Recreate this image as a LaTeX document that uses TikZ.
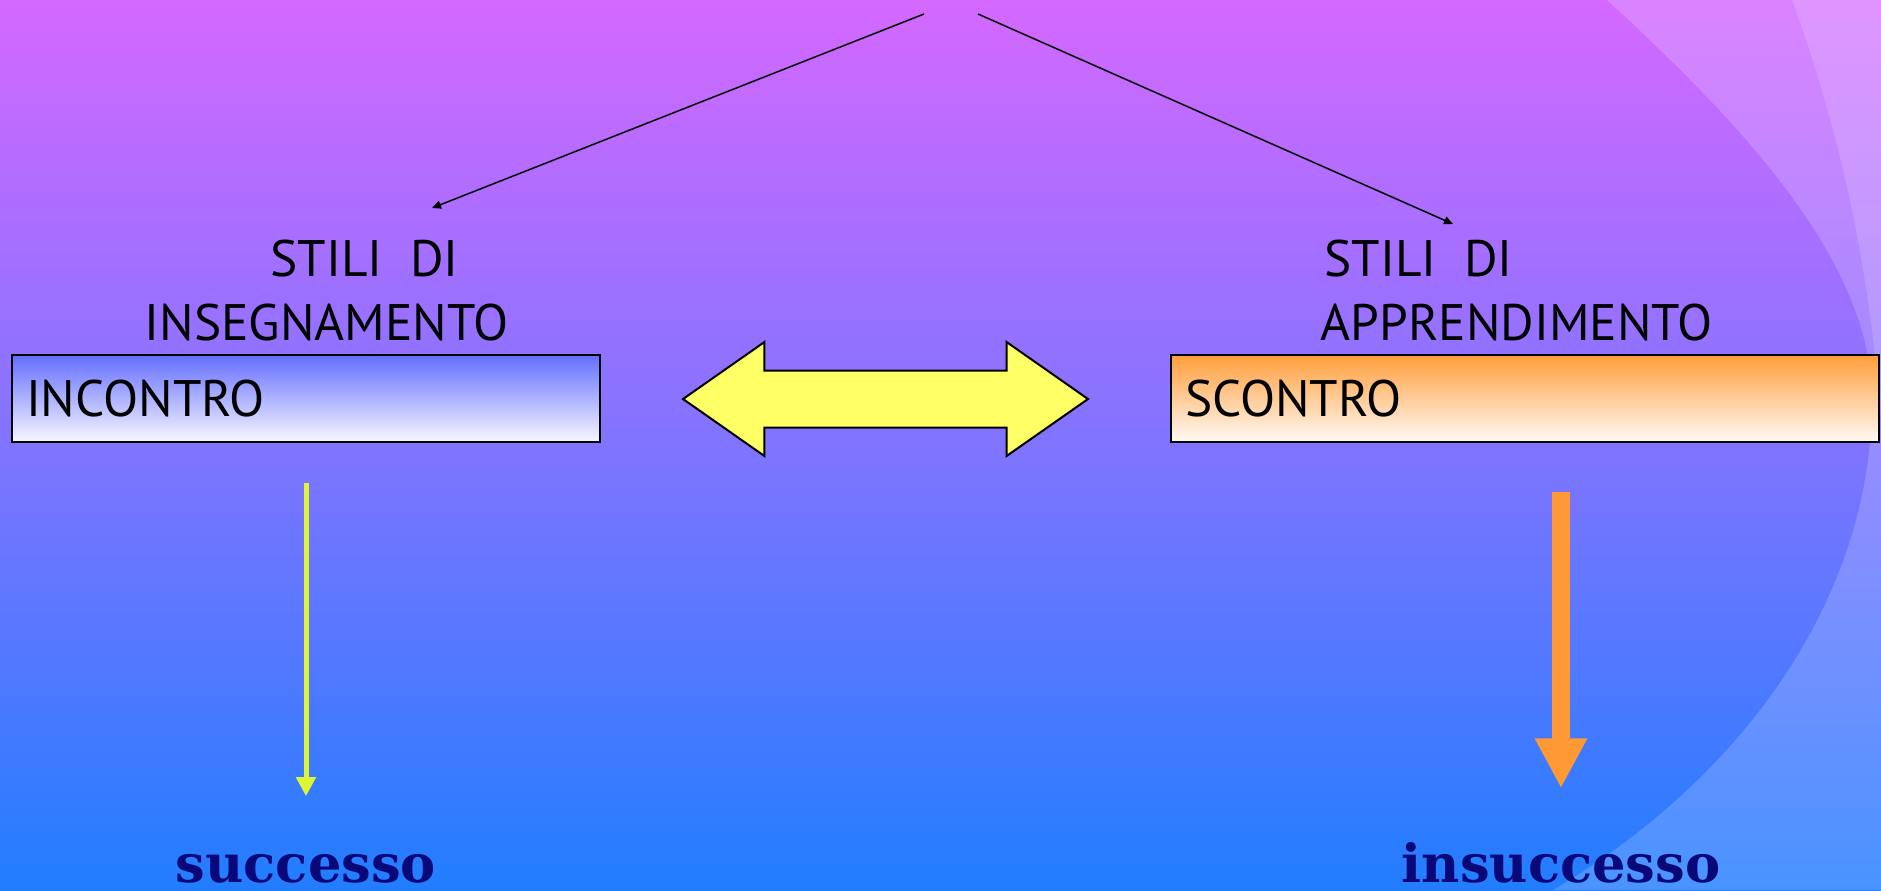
\documentclass[tikz,border=0pt]{standalone}
\usepackage{fontspec}
\setmainfont{PT Sans}
\newfontfamily\resultfont{DejaVu Serif}
\usepackage{xcolor}
\definecolor{bgtop}{RGB}{212, 104, 255}
\definecolor{bgmid}{RGB}{128, 116, 255}
\definecolor{bgbottom}{RGB}{33, 125, 255}
\definecolor{incontroblue}{RGB}{100, 110, 255}
\definecolor{scontroorange}{RGB}{255, 158, 60}
\definecolor{swapyellow}{RGB}{255, 255, 102}
\definecolor{successlime}{RGB}{222, 244, 52}
\definecolor{failorange}{RGB}{255, 153, 51}
\definecolor{resultnavy}{RGB}{8, 8, 120}
\usetikzlibrary{shapes.arrows,arrows.meta,positioning,calc}

\begin{document}
\begin{tikzpicture}[x=0.1mm, y=-0.1mm,
    every node/.style={font=\fontsize{14.6}{17}\selectfont, inner sep=0pt},
    title/.style={anchor=base west},
    stylebox/.style={rectangle, draw, line width=0.2mm, minimum width=58.8mm, minimum height=8.7mm, text width=56mm, inner xsep=1.4mm, align=left},
    result/.style={anchor=base, font=\resultfont\bfseries\fontsize{15}{18}\selectfont, text=resultnavy},
    pointer/.style={-{Triangle[width=0.8mm,length=0.9mm]}, line width=0.15mm}]
    \useasboundingbox (0,0) rectangle (1881,890);

    % Background
    \fill[top color=bgtop, bottom color=bgbottom, middle color=bgmid] (0,0) rectangle (1881,890);
    \fill[white, opacity=0.18] (1607,0) .. controls (1760,140) and (1872,270) .. (1872,400) .. controls (1872,600) and (1740,780) .. (1553,890) -- (1881,890) -- (1881,0) -- cycle;
    \fill[white, opacity=0.15] (1792,0) .. controls (1840,130) and (1870,270) .. (1881,420) -- (1881,0) -- cycle;

    % Titles
    \node[title] (stiliI) at (270,276) {STILI~~DI};
    \node[title] (insegn) at (144,340) {INSEGNAMENTO};
    \node[title] (stiliA) at (1324,276) {STILI~~DI};
    \node[title] (apprend) at (1320,340) {APPRENDIMENTO};
    \coordinate (fromI) at (924,14);
    \coordinate (fromA) at (978,14);
    \coordinate (toI) at (432,208);
    \coordinate (toA) at (1453,224);

    % Boxes
    \node[stylebox, top color=incontroblue, bottom color=white!95!incontroblue] (incontro) at (306,398.5) {INCONTRO};
    \node[stylebox, minimum width=70.8mm, text width=68mm, top color=scontroorange, bottom color=white!95!scontroorange] (scontro) at (1525,398.5) {SCONTRO};
    \node[double arrow, draw, fill=swapyellow, line width=0.2mm, minimum height=40.5mm, inner ysep=2.75mm, minimum width=11.2mm, double arrow head extend=2.85mm, double arrow tip angle=70] (swap) at (885.5,399) {};

    % Results
    \node[result] (successo) at (306,882) {successo};
    \node[result] (insuccesso) at (1561,882) {insuccesso};

    % Arrows
    \draw[pointer] (fromI) -- (toI);
    \draw[pointer] (fromA) -- (toA);
    \draw[-{Triangle[width=1.9mm,length=1.9mm]}, successlime, line width=0.5mm, shorten <=4mm, shorten >=5.7mm] (incontro) -- (successo);
    \draw[-{Triangle[width=4.9mm,length=5mm]}, failorange, line width=1.8mm, shorten <=4.9mm, shorten >=5.3mm] (scontro.south -| insuccesso) -- (insuccesso);
\end{tikzpicture}
\end{document}
